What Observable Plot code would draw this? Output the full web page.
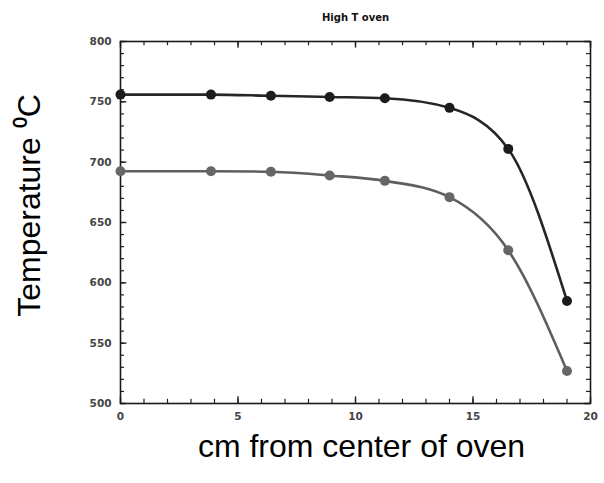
<!DOCTYPE html>
<html>
<head>
<meta charset="utf-8">
<script src="https://cdn.jsdelivr.net/npm/d3@7"></script>
<script src="https://cdn.jsdelivr.net/npm/@observablehq/plot@0.6"></script>
<style>
  html, body { margin: 0; padding: 0; background: #fff; }
  #chart svg { display: block; }
</style>
</head>
<body>
<div id="chart"></div>
<script>
// Data
const positions = [0, 3.85, 6.4, 8.9, 11.25, 14.0, 16.5, 19.0];      // cm from center
const upperTemps = [756, 756, 755, 754, 753, 745, 711, 585];          // dark series
const lowerTemps = [692.5, 692.5, 692, 689, 684.5, 671, 627, 527];    // grey series

const xMajorTicks = [0, 5, 10, 15, 20];
const xMinorTicks = d3.range(0, 21, 1);
const yMajorTicks = [500, 550, 600, 650, 700, 750, 800];
const yMinorTicks = d3.range(500, 801, 10);

const titleText = "High T oven";
const xLabel = "cm from center of oven";
const yLabel = "Temperature \u2070C";

const upperRows = positions.map((x, i) => ({x, t: upperTemps[i]}));
const lowerRows = positions.map((x, i) => ({x, t: lowerTemps[i]}));

const bigFont = "Liberation Sans, Arial, Helvetica, sans-serif";
const smallFont = "DejaVu Sans, Verdana, sans-serif";
const tickColor = "#222";

// tick lengths expressed in data units
const xMaj = 0.27, xMin = 0.17;   // for y-side ticks (x units)
const yMaj = 5.5, yMin = 3.5;     // for x-side ticks (y units)

const chart = Plot.plot({
  width: 604,
  height: 483,
  marginLeft: 120,
  marginRight: 14,
  marginTop: 41,
  marginBottom: 80,
  style: {fontFamily: bigFont, background: "#fff"},
  x: {domain: [0, 20]},
  y: {domain: [500, 800]},
  marks: [
    // tick labels
    Plot.axisX({ticks: xMajorTicks, tickSize: 0, tickPadding: 9, fontSize: 10.5, fontWeight: "bold", fontFamily: smallFont, color: "#444", label: null}),
    Plot.axisY({ticks: yMajorTicks, tickSize: 0, tickPadding: 9, fontSize: 10.5, fontWeight: "bold", fontFamily: smallFont, color: "#444", label: null}),
    // inward ticks: bottom & top
    Plot.ruleX(xMinorTicks, {x: d => d, y1: () => 500, y2: () => 500 + yMin, stroke: tickColor, strokeWidth: 1.2}),
    Plot.ruleX(xMajorTicks, {x: d => d, y1: () => 500, y2: () => 500 + yMaj, stroke: tickColor, strokeWidth: 1.4}),
    Plot.ruleX(xMinorTicks, {x: d => d, y1: () => 800, y2: () => 800 - yMin, stroke: tickColor, strokeWidth: 1.2}),
    Plot.ruleX(xMajorTicks, {x: d => d, y1: () => 800, y2: () => 800 - yMaj, stroke: tickColor, strokeWidth: 1.4}),
    // inward ticks: left & right
    Plot.ruleY(yMinorTicks, {y: d => d, x1: () => 0, x2: () => xMin, stroke: tickColor, strokeWidth: 1.2}),
    Plot.ruleY(yMajorTicks, {y: d => d, x1: () => 0, x2: () => xMaj, stroke: tickColor, strokeWidth: 1.4}),
    Plot.ruleY(yMinorTicks, {y: d => d, x1: () => 20, x2: () => 20 - xMin, stroke: tickColor, strokeWidth: 1.2}),
    Plot.ruleY(yMajorTicks, {y: d => d, x1: () => 20, x2: () => 20 - xMaj, stroke: tickColor, strokeWidth: 1.4}),
    Plot.frame({stroke: "#1a1a1a", strokeWidth: 1.6}),
    // series
    Plot.line(lowerRows, {x: "x", y: "t", stroke: "#5e5e5e", strokeWidth: 2.6, curve: "monotone-x"}),
    Plot.dot(lowerRows, {x: "x", y: "t", r: 5, fill: "#666", stroke: "none"}),
    Plot.line(upperRows, {x: "x", y: "t", stroke: "#262626", strokeWidth: 2.6, curve: "monotone-x"}),
    Plot.dot(upperRows, {x: "x", y: "t", r: 5, fill: "#1c1c1c", stroke: "none"}),
    // title and axis labels
    Plot.text([titleText], {frameAnchor: "top", text: d => d, dy: -24, fontSize: 10, fontWeight: "bold", fontFamily: smallFont, fill: "#111", lineAnchor: "middle"}),
    Plot.text([xLabel], {frameAnchor: "bottom", text: d => d, dy: 43, dx: 6, fontSize: 32, fill: "#000", lineAnchor: "middle"}),
    Plot.text([yLabel], {frameAnchor: "left", text: d => d, dx: -91, dy: -17, rotate: -90, fontSize: 32, fill: "#000", textAnchor: "middle", lineAnchor: "middle"})
  ]
});
document.getElementById("chart").appendChild(chart);
</script>
</body>
</html>
